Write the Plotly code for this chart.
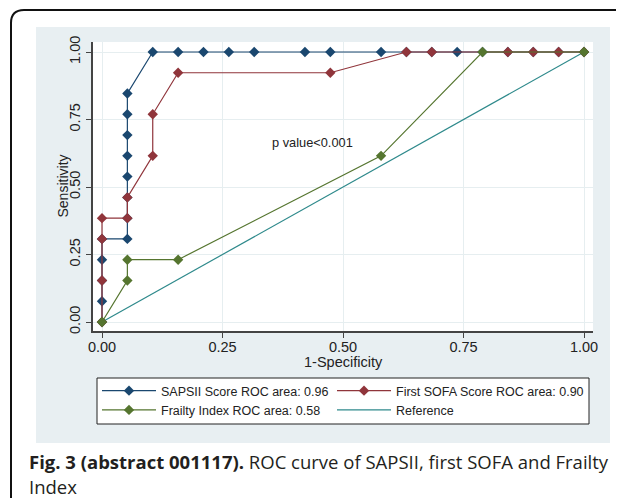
import plotly.graph_objects as go

# ---- data (19 negatives, 13 positives) ----
sapsii_x = [0, 0, 0, 0, 0, 1/19, 1/19, 1/19, 1/19, 1/19, 1/19, 1/19, 1/19,
            2/19, 3/19, 4/19, 5/19, 6/19, 8/19, 9/19, 11/19, 12/19, 13/19, 14/19,
            15/19, 16/19, 17/19, 18/19, 1]
sapsii_y = [0, 1/13, 2/13, 3/13, 4/13, 4/13, 5/13, 6/13, 7/13, 8/13, 9/13, 10/13, 11/13,
            1, 1, 1, 1, 1, 1, 1, 1, 1, 1, 1,
            1, 1, 1, 1, 1]

sofa_x = [0, 0, 0, 0, 1/19, 1/19, 2/19, 2/19, 3/19, 9/19, 12/19, 13/19, 16/19, 17/19, 18/19, 1]
sofa_y = [0, 2/13, 4/13, 5/13, 5/13, 6/13, 8/13, 10/13, 12/13, 12/13, 1, 1, 1, 1, 1, 1]

frailty_x = [0, 1/19, 1/19, 3/19, 11/19, 15/19, 1]
frailty_y = [0, 2/13, 3/13, 3/13, 8/13, 1, 1]

ref_x = [0, 1]
ref_y = [0, 1]

names = ["SAPSII Score ROC area: 0.96", "First SOFA Score ROC area: 0.90",
         "Frailty Index ROC area: 0.58", "Reference"]
tick_vals = [0, 0.25, 0.5, 0.75, 1.0]
tick_text = ["0.00", "0.25", "0.50", "0.75", "1.00"]

NAVY = "#1a476f"
MAROON = "#90353b"
GREEN = "#55752f"
TEAL = "#2f8a8c"

# page offset of 8px (browser body margin) is compensated: layout is 616x490
OFF = 8
W, H = 624 - OFF, 498 - OFF
PL, PR, PT, PB = 93, 593, 42, 331   # plot region in page pixels
PW, PH = PR - PL, PB - PT


def px(xp):
    return (xp - PL) / PW


def py(yp):
    return (PB - yp) / PH


fig = go.Figure()
fig.add_trace(go.Scatter(x=ref_x, y=ref_y, mode="lines", name=names[3], legend="legend2",
                         legendrank=2, line=dict(color=TEAL, width=1.2)))
fig.add_trace(go.Scatter(x=sapsii_x, y=sapsii_y, mode="lines+markers", name=names[0],
                         legend="legend", legendrank=1,
                         line=dict(color=NAVY, width=1.2),
                         marker=dict(symbol="diamond", size=8, color=NAVY)))
fig.add_trace(go.Scatter(x=sofa_x, y=sofa_y, mode="lines+markers", name=names[1],
                         legend="legend2", legendrank=1,
                         line=dict(color=MAROON, width=1.2),
                         marker=dict(symbol="diamond", size=8, color=MAROON)))
fig.add_trace(go.Scatter(x=frailty_x, y=frailty_y, mode="lines+markers", name=names[2],
                         legend="legend", legendrank=2,
                         line=dict(color=GREEN, width=1.2),
                         marker=dict(symbol="diamond", size=8, color=GREEN)))

fig.add_annotation(x=0.349, y=0.663, xref="x", yref="y", text="p value<0.001",
                   showarrow=False, xanchor="left", yanchor="middle",
                   font=dict(size=12.8, color="#222"))

# axis titles
fig.add_annotation(xref="paper", yref="paper", x=0.5, y=py(362), text="1-Specificity",
                   showarrow=False, xanchor="center", yanchor="middle",
                   font=dict(size=14.5, color="#222"))
fig.add_annotation(xref="paper", yref="paper", x=px(62), y=0.5, text="Sensitivity",
                   showarrow=False, xanchor="center", yanchor="middle", textangle=-90,
                   font=dict(size=14, color="#222"))

# graph region background, white plot region, legend box and card border
fig.add_shape(type="rect", xref="paper", yref="paper",
              x0=px(36), x1=px(610), y0=py(443), y1=py(27),
              fillcolor="#e8eff2", line=dict(width=0), layer="below")
fig.add_shape(type="rect", xref="paper", yref="paper",
              x0=0, x1=1, y0=0, y1=1,
              fillcolor="white", line=dict(width=0), layer="below")
fig.add_shape(type="rect", xref="paper", yref="paper",
              x0=px(97), x1=px(589), y0=py(424), y1=py(378),
              fillcolor="white", line=dict(color="#222", width=1), layer="below")
fig.add_shape(type="path", xref="paper", yref="paper",
              path="M {a},{b} L {c},{b} Q {d},{b} {d},{e} L {d},{f}".format(
                  a=px(640), b=py(10), c=px(24), d=px(11), e=py(23), f=py(520)),
              line=dict(color="#111", width=2), layer="below")

# caption
fig.add_annotation(xref="paper", yref="paper", x=px(27), y=py(461),
                   xanchor="left", yanchor="middle", showarrow=False, align="left",
                   text="<b>Fig. 3 (abstract 001117).</b> ROC curve of SAPSII, first SOFA and Frailty",
                   font=dict(family="Open Sans", size=18.5, color="#231f20"))
fig.add_annotation(xref="paper", yref="paper", x=px(27), y=py(486),
                   xanchor="left", yanchor="middle", showarrow=False, align="left",
                   text="Index",
                   font=dict(family="Open Sans", size=18.5, color="#231f20"))

axis_common = dict(showgrid=True, gridcolor="#e6eef0", gridwidth=1,
                   showline=True, linecolor="#444", linewidth=1.5,
                   ticks="outside", ticklen=5, tickcolor="#444", tickwidth=1,
                   tickvals=tick_vals, ticktext=tick_text, zeroline=False,
                   tickfont=dict(size=14.5, color="#222"))

fig.update_xaxes(range=[(PL - 102) / 482, (PR - 102) / 482], ticklabelstandoff=-3,
                 **axis_common)
fig.update_yaxes(range=[(322 - PB) / 270, (322 - PT) / 270], tickangle=-90, **axis_common)

legend_common = dict(orientation="v", xanchor="left", yanchor="top", itemwidth=54,
                     bgcolor="rgba(0,0,0,0)", borderwidth=0,
                     font=dict(size=12.5, color="#222"), tracegroupgap=0)

fig.update_layout(
    width=W, height=H,
    margin=dict(l=PL - OFF, r=(624 - PR), t=PT - OFF, b=(498 - PB), pad=0),
    paper_bgcolor="white", plot_bgcolor="white",
    font=dict(family="Liberation Sans, Arial, sans-serif", color="#222"),
    showlegend=True,
    legend=dict(x=px(97), y=py(376), **legend_common),
    legend2=dict(x=px(332), y=py(376), **legend_common),
)

fig.write_html("out.html")
